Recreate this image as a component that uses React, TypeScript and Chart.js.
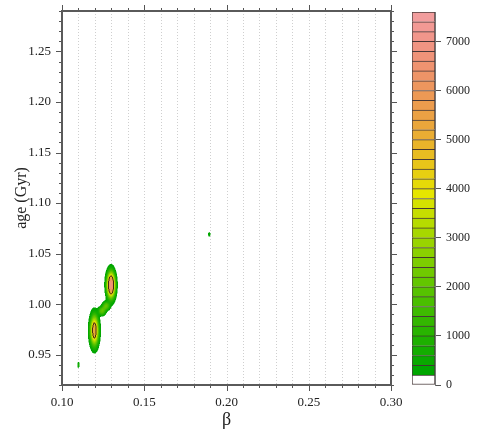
import React, { useEffect, useRef } from 'react';
import { Chart, registerables } from 'chart.js';
Chart.register(...registerables);

// ---- axes ----
const X_MIN = 0.10;
const X_MAX = 0.30;
const Y_MIN = 0.92;
const Y_MAX = 1.29;
const X_TICK_HUNDREDTHS = Array.from({ length: 21 }, (_, k) => 10 + k); // 0.10 .. 0.30
const Y_TICK_HUNDREDTHS = Array.from({ length: 38 }, (_, k) => 92 + k); // 0.92 .. 1.29

// ---- density components (beta, age, spread, peak) ----
const compBeta = [0.1298, 0.1197, 0.1243, 0.1268, 0.1100, 0.1895];
const compAge = [1.019, 0.974, 0.9932, 0.9982, 0.940, 1.069];
const compSigBeta = [0.0019, 0.0019, 0.0016, 0.0016, 0.0005, 0.0007];
const compSigAge = [0.0095, 0.0108, 0.0030, 0.0030, 0.0021, 0.0022];
const compPeak = [6800, 5300, 2000, 2000, 700, 350];

// ---- colour levels ----
const LEVEL_STEP = 200;
const LEVEL_MAX = 7600;
const CB_TICKS = [0, 1000, 2000, 3000, 4000, 5000, 6000, 7000];
const RING_LEVEL = 4200;
const PROFILE = 2.5;

const SERIF = "'Liberation Serif', 'DejaVu Serif', serif";
const NB = LEVEL_MAX / LEVEL_STEP;

function hsv(h: number, s: number, v: number): number[] {
  const c = v * s;
  const hp = h / 60;
  const x = c * (1 - Math.abs((hp % 2) - 1));
  let r = 0, g = 0, b = 0;
  if (hp < 1) { r = c; g = x; }
  else if (hp < 2) { r = x; g = c; }
  else if (hp < 3) { g = c; b = x; }
  else if (hp < 4) { g = x; b = c; }
  else if (hp < 5) { r = x; b = c; }
  else { r = c; b = x; }
  const m = v - c;
  return [Math.round((r + m) * 255), Math.round((g + m) * 255), Math.round((b + m) * 255)];
}
function bandColor(i: number): number[] {
  if (i <= 0) return [255, 255, 255];
  if (i <= 19) {
    const t = (i - 1) / 18;
    return hsv(120 - 60 * t, 1, 0.65 + 0.25 * t);
  }
  const t = (i - 19) / (NB - 1 - 19);
  return hsv(60 - 60 * t, 1 - 0.65 * t, 0.9 + 0.05 * t);
}
const BAND_RGB = Array.from({ length: NB }, (_, i) => bandColor(i));

const densityPlugin = {
  id: 'density',
  beforeDatasetsDraw(chart: any) {
    const { ctx, chartArea: a, scales } = chart;
    const xs = scales.x, ys = scales.y;
    // dotted vertical grid
    ctx.save();
    ctx.strokeStyle = '#cfcfcf';
    ctx.lineWidth = 1;
    ctx.setLineDash([1, 2]);
    xs.ticks.forEach((t: any) => {
      const px = Math.round(xs.getPixelForValue(t.value)) + 0.5;
      if (px <= a.left + 2 || px >= a.right - 2) return;
      ctx.beginPath();
      ctx.moveTo(px, a.top);
      ctx.lineTo(px, a.bottom);
      ctx.stroke();
    });
    ctx.restore();

    const S = 2;
    const W = Math.round((a.right - a.left) * S);
    const H = Math.round((a.bottom - a.top) * S);
    const comps = chart.data.datasets[0].data.map((c: any) => {
      const cx = xs.getPixelForValue(c.x), cy = ys.getPixelForValue(c.y);
      return {
        cx: (cx - a.left) * S,
        cy: (cy - a.top) * S,
        sx: Math.abs(xs.getPixelForValue(c.x + c.sx) - cx) * S,
        sy: Math.abs(ys.getPixelForValue(c.y + c.sy) - cy) * S,
        p: c.peak,
      };
    });
    const dens = new Float32Array(W * H);
    for (const c of comps) {
      const rx = c.sx * 4, ry = c.sy * 4;
      const i0 = Math.max(0, Math.floor(c.cx - rx)), i1 = Math.min(W - 1, Math.ceil(c.cx + rx));
      const j0 = Math.max(0, Math.floor(c.cy - ry)), j1 = Math.min(H - 1, Math.ceil(c.cy + ry));
      for (let j = j0; j <= j1; j++) {
        const v = (j + 0.5 - c.cy) / c.sy;
        for (let i = i0; i <= i1; i++) {
          const u = (i + 0.5 - c.cx) / c.sx;
          const r2 = u * u + v * v;
          dens[j * W + i] += c.p * Math.exp(-0.5 * Math.pow(r2, PROFILE / 2));
        }
      }
    }
    const off = document.createElement('canvas');
    off.width = W; off.height = H;
    const octx = off.getContext('2d')!;
    const img = octx.createImageData(W, H);
    const d = img.data;
    const below = (k: number) => k >= 0 && k < W * H && dens[k] < RING_LEVEL;
    for (let j = 0; j < H; j++) {
      for (let i = 0; i < W; i++) {
        const k = j * W + i;
        const val = dens[k];
        const band = Math.min(NB - 1, Math.floor(val / LEVEL_STEP));
        if (band < 1) continue;
        let col = BAND_RGB[band];
        if (val >= RING_LEVEL) {
          if (below(k - 1) || below(k + 1) || below(k - 2) || below(k + 2) ||
              below(k - W) || below(k + W) || below(k - 2 * W) || below(k + 2 * W)) {
            col = [70, 40, 20];
          }
        }
        d[k * 4] = col[0]; d[k * 4 + 1] = col[1]; d[k * 4 + 2] = col[2]; d[k * 4 + 3] = 255;
      }
    }
    octx.putImageData(img, 0, 0);
    ctx.save();
    ctx.imageSmoothingEnabled = true;
    ctx.imageSmoothingQuality = 'high';
    ctx.drawImage(off, a.left, a.top, W / S, H / S);
    ctx.restore();
  },
};

const framePlugin = {
  id: 'frame',
  afterDraw(chart: any) {
    const { ctx, chartArea: a, scales } = chart;
    const xs = scales.x, ys = scales.y;
    ctx.save();
    ctx.strokeStyle = '#555';
    ctx.lineWidth = 1;
    const MAJ = 6, MIN = 3;
    xs.ticks.forEach((t: any) => {
      const major = Math.round(t.value * 100) % 5 === 0;
      const len = major ? MAJ : MIN;
      const px = Math.round(xs.getPixelForValue(t.value)) + 0.5;
      ctx.beginPath();
      ctx.moveTo(px, a.bottom); ctx.lineTo(px, a.bottom + len);
      ctx.moveTo(px, a.top); ctx.lineTo(px, a.top - len);
      ctx.stroke();
    });
    ys.ticks.forEach((t: any) => {
      const major = Math.round(t.value * 100) % 5 === 0;
      const len = major ? MAJ : MIN;
      const py = Math.round(ys.getPixelForValue(t.value)) + 0.5;
      ctx.beginPath();
      ctx.moveTo(a.left, py); ctx.lineTo(a.left - len, py);
      ctx.moveTo(a.right, py); ctx.lineTo(a.right + len, py);
      ctx.stroke();
    });
    ctx.lineWidth = 2;
    ctx.strokeStyle = '#5a5a5a';
    ctx.strokeRect(a.left, a.top, a.right - a.left, a.bottom - a.top);
    ctx.restore();
  },
};

function labelFor(v: number) {
  return Math.round(v * 100) % 5 === 0 ? v.toFixed(2) : '';
}

function mainConfig(): any {
  return {
    type: 'scatter',
    data: {
      datasets: [{
        data: compBeta.map((b, i) => ({ x: b, y: compAge[i], sx: compSigBeta[i], sy: compSigAge[i], peak: compPeak[i] })),
        pointRadius: 0,
        showLine: false,
      }],
    },
    options: {
      responsive: false,
      animation: false,
      layout: { padding: { left: 0, top: 11, right: 14, bottom: 0 } },
      plugins: { legend: { display: false }, tooltip: { enabled: false } },
      scales: {
        x: {
          type: 'linear', min: X_MIN, max: X_MAX,
          afterBuildTicks: (s: any) => { s.ticks = X_TICK_HUNDREDTHS.map((k) => ({ value: k / 100 })); },
          afterFit: (s: any) => { s.height = 57; s.paddingLeft = 0; s.paddingRight = 0; },
          ticks: { autoSkip: false, maxRotation: 0, padding: 10, color: '#222', font: { family: SERIF, size: 13 }, callback: (v: any) => labelFor(Number(v)) },
          grid: { display: false, drawTicks: false, tickLength: 0 },
          border: { display: false },
          title: { display: true, text: 'β', color: '#222', font: { family: SERIF, size: 18 }, padding: { top: 0, bottom: 11 } },
        },
        y: {
          type: 'linear', min: Y_MIN, max: Y_MAX,
          afterBuildTicks: (s: any) => { s.ticks = Y_TICK_HUNDREDTHS.map((k) => ({ value: k / 100 })); },
          afterFit: (s: any) => { s.width = 62; s.paddingTop = 0; s.paddingBottom = 0; },
          ticks: { autoSkip: false, padding: 11, color: '#222', font: { family: SERIF, size: 13 }, callback: (v: any) => labelFor(Number(v)) },
          grid: { display: false, drawTicks: false, tickLength: 0 },
          border: { display: false },
          title: { display: true, text: 'age (Gyr)', color: '#222', font: { family: SERIF, size: 16 }, padding: { top: 12, bottom: 0 } },
        },
      },
    },
    plugins: [densityPlugin, framePlugin],
  };
}

function cbConfig(): any {
  const datasets = BAND_RGB.map((c, i) => ({
    data: [LEVEL_STEP],
    backgroundColor: `rgb(${c[0]},${c[1]},${c[2]})`,
    borderColor: 'rgba(40,25,25,0.85)',
    borderWidth: { top: 1, left: 1, right: 1, bottom: i === 0 ? 1 : 0 },
    borderSkipped: false,
    barPercentage: 1,
    categoryPercentage: 1,
  }));
  return {
    type: 'bar',
    data: { labels: [''], datasets },
    options: {
      responsive: false,
      animation: false,
      layout: { padding: { left: 7, top: 12, bottom: 57, right: 0 } },
      plugins: { legend: { display: false }, tooltip: { enabled: false } },
      scales: {
        x: { display: false, stacked: true },
        y: {
          position: 'right', stacked: true, min: 0, max: LEVEL_MAX,
          afterBuildTicks: (s: any) => { s.ticks = CB_TICKS.map((v) => ({ value: v })); },
          afterFit: (s: any) => { s.width = 62; s.paddingTop = 0; s.paddingBottom = 0; },
          ticks: { padding: 5, color: '#222', font: { family: SERIF, size: 12 }, callback: (v: any) => String(v) },
          grid: { drawOnChartArea: false, drawTicks: true, tickLength: 6, color: '#555' },
          border: { display: true, color: '#777' },
        },
      },
    },
  };
}

export default function App() {
  const mainRef = useRef<HTMLCanvasElement>(null);
  const cbRef = useRef<HTMLCanvasElement>(null);
  useEffect(() => {
    const c1 = new Chart(mainRef.current!, mainConfig());
    const c2 = new Chart(cbRef.current!, cbConfig());
    return () => { c1.destroy(); c2.destroy(); };
  }, []);
  return (
    <div style={{ position: 'absolute', left: 0, top: 0, width: 497, height: 442, background: '#fff' }}>
      <canvas ref={mainRef} width={405} height={442} style={{ position: 'absolute', left: 0, top: 0 }} />
      <canvas ref={cbRef} width={92} height={442} style={{ position: 'absolute', left: 405, top: 0 }} />
    </div>
  );
}
